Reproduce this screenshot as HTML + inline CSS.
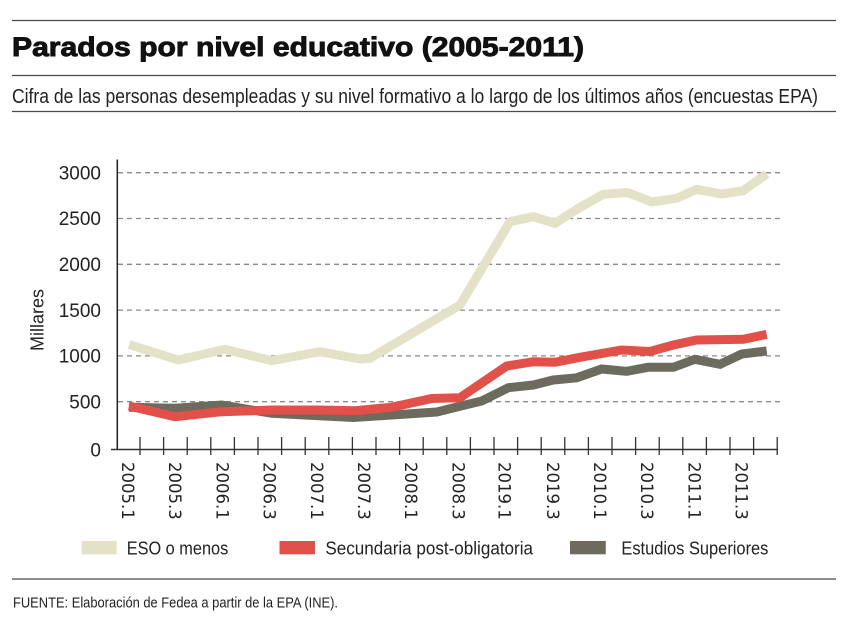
<!DOCTYPE html>
<html>
<head>
<meta charset="utf-8">
<style>
html,body{margin:0;padding:0;background:#fff;}
svg{display:block;}
</style>
</head>
<body>
<svg width="850" height="619" viewBox="0 0 850 619" xmlns="http://www.w3.org/2000/svg">
<rect width="850" height="619" fill="#fff"/>
<!-- rules -->
<g stroke="#4a4a4a" stroke-width="1.3">
<line x1="12" y1="20.5" x2="836" y2="20.5"/>
<line x1="12" y1="75.5" x2="836" y2="75.5"/>
<line x1="12" y1="111.5" x2="836" y2="111.5"/>
<line x1="12" y1="579" x2="836" y2="579"/>
</g>
<text x="12" y="56" font-family="Liberation Sans, sans-serif" font-weight="bold" font-size="26.5" fill="#111" stroke="#111" stroke-width="0.9" textLength="572" lengthAdjust="spacingAndGlyphs">Parados por nivel educativo (2005-2011)</text>
<text x="12" y="103" font-family="Liberation Sans, sans-serif" font-size="20" fill="#222" textLength="806" lengthAdjust="spacingAndGlyphs">Cifra de las personas desempleadas y su nivel formativo a lo largo de los últimos años (encuestas EPA)</text>

<!-- gridlines -->
<g stroke="#8a8a8a" stroke-width="1.3" stroke-dasharray="5 4">
<line x1="118" y1="172.7" x2="783" y2="172.7"/>
<line x1="118" y1="218.5" x2="783" y2="218.5"/>
<line x1="118" y1="264.3" x2="783" y2="264.3"/>
<line x1="118" y1="310.1" x2="783" y2="310.1"/>
<line x1="118" y1="355.9" x2="783" y2="355.9"/>
<line x1="118" y1="401.7" x2="783" y2="401.7"/>
</g>

<!-- y labels -->
<g font-family="Liberation Sans, sans-serif" font-size="19" fill="#222" text-anchor="end">
<text x="101" y="179.4">3000</text>
<text x="101" y="225.2">2500</text>
<text x="101" y="271">2000</text>
<text x="101" y="316.8">1500</text>
<text x="101" y="362.6">1000</text>
<text x="101" y="408.4">500</text>
<text x="101" y="456.5">0</text>
</g>
<text transform="translate(43.5,320) rotate(-90)" font-family="Liberation Sans, sans-serif" font-size="18" fill="#222" text-anchor="middle">Millares</text>

<!-- series -->
<g fill="none" stroke-width="9" stroke-linejoin="miter" stroke-linecap="butt">
<polyline stroke="#e3e2c7" points="129,344.5 178.3,360 225,349.3 271.7,360.7 320,351.7 360,359 370,358.3 460,305 510,221.7 533.3,216.7 555,223.3 578.3,208.3 603.3,194.3 627.5,192.5 651.7,202 676.7,198.3 696.7,189.3 721.7,194 743.3,190.7 766.7,174"/>
<polyline stroke="#6c6b5e" points="129,407.3 175,408.3 221.7,405 271.7,413.3 315,415.5 353.3,417.5 391.7,415 436.7,412 465,405 481.7,401 508.3,387.7 533.3,385 553.3,380 576.7,377.8 601.7,369 626.7,371.3 648,367.3 673.3,367.3 695,359.3 720,364.3 741.7,354 766.7,351"/>
<polyline stroke="#e2504a" points="129,406 175,416.7 221.7,411.7 271.7,410 318.3,410 355,410.7 391.7,407.3 431.7,398.5 460,397.7 506.7,366 533.3,361.7 555,362.3 580,357.3 621.7,350 650,351.5 673.3,345 696.7,340 743.3,339.3 766.7,334.3"/>
</g>

<!-- axes -->
<line x1="117.3" y1="159.5" x2="117.3" y2="450" stroke="#222" stroke-width="1.5"/>
<line x1="111" y1="449.5" x2="778" y2="449.5" stroke="#333" stroke-width="1.4"/>
<g stroke="#333" stroke-width="1.3">
<line x1="140" y1="437" x2="140" y2="455"/>
<line x1="163.6" y1="437" x2="163.6" y2="455"/>
<line x1="187.2" y1="437" x2="187.2" y2="455"/>
<line x1="210.8" y1="437" x2="210.8" y2="455"/>
<line x1="234.4" y1="437" x2="234.4" y2="455"/>
<line x1="258" y1="437" x2="258" y2="455"/>
<line x1="281.6" y1="437" x2="281.6" y2="455"/>
<line x1="305.2" y1="437" x2="305.2" y2="455"/>
<line x1="328.8" y1="437" x2="328.8" y2="455"/>
<line x1="352.4" y1="437" x2="352.4" y2="455"/>
<line x1="376" y1="437" x2="376" y2="455"/>
<line x1="399.6" y1="437" x2="399.6" y2="455"/>
<line x1="423.2" y1="437" x2="423.2" y2="455"/>
<line x1="446.8" y1="437" x2="446.8" y2="455"/>
<line x1="470.4" y1="437" x2="470.4" y2="455"/>
<line x1="494" y1="437" x2="494" y2="455"/>
<line x1="517.6" y1="437" x2="517.6" y2="455"/>
<line x1="541.2" y1="437" x2="541.2" y2="455"/>
<line x1="564.8" y1="437" x2="564.8" y2="455"/>
<line x1="588.4" y1="437" x2="588.4" y2="455"/>
<line x1="612" y1="437" x2="612" y2="455"/>
<line x1="635.6" y1="437" x2="635.6" y2="455"/>
<line x1="659.2" y1="437" x2="659.2" y2="455"/>
<line x1="682.8" y1="437" x2="682.8" y2="455"/>
<line x1="706.4" y1="437" x2="706.4" y2="455"/>
<line x1="730" y1="437" x2="730" y2="455"/>
<line x1="753.6" y1="437" x2="753.6" y2="455"/>
<line x1="777.2" y1="437" x2="777.2" y2="455"/>
</g>

<!-- x labels -->
<g font-family="DejaVu Sans, sans-serif" font-size="16.5" fill="#222">
<text transform="translate(122,462) rotate(90)">2005.1</text>
<text transform="translate(169.2,462) rotate(90)">2005.3</text>
<text transform="translate(216.4,462) rotate(90)">2006.1</text>
<text transform="translate(263.6,462) rotate(90)">2006.3</text>
<text transform="translate(310.8,462) rotate(90)">2007.1</text>
<text transform="translate(358,462) rotate(90)">2007.3</text>
<text transform="translate(405.2,462) rotate(90)">2008.1</text>
<text transform="translate(452.4,462) rotate(90)">2008.3</text>
<text transform="translate(498.6,462) rotate(90)">2019.1</text>
<text transform="translate(546.8,462) rotate(90)">2019.3</text>
<text transform="translate(594,462) rotate(90)">2010.1</text>
<text transform="translate(641.2,462) rotate(90)">2010.3</text>
<text transform="translate(688.4,462) rotate(90)">2011.1</text>
<text transform="translate(735.6,462) rotate(90)">2011.3</text>
</g>

<!-- legend -->
<rect x="81.7" y="541" width="35" height="13.3" fill="#e3e2c7"/>
<rect x="279.5" y="541" width="35.5" height="13.3" fill="#e2504a"/>
<rect x="570" y="541" width="35.8" height="13.3" fill="#6c6b5e"/>
<g font-family="Liberation Sans, sans-serif" font-size="18" fill="#222">
<text x="126.7" y="554.5" textLength="101.6" lengthAdjust="spacingAndGlyphs">ESO o menos</text>
<text x="325.4" y="554.5" textLength="207.6" lengthAdjust="spacingAndGlyphs">Secundaria post-obligatoria</text>
<text x="621.4" y="554.5" textLength="147" lengthAdjust="spacingAndGlyphs">Estudios Superiores</text>
</g>

<text x="13" y="607.3" font-family="Liberation Sans, sans-serif" font-size="14.5" fill="#222" textLength="325" lengthAdjust="spacingAndGlyphs">FUENTE: Elaboración de Fedea a partir de la EPA (INE).</text>
</svg>
</body>
</html>
